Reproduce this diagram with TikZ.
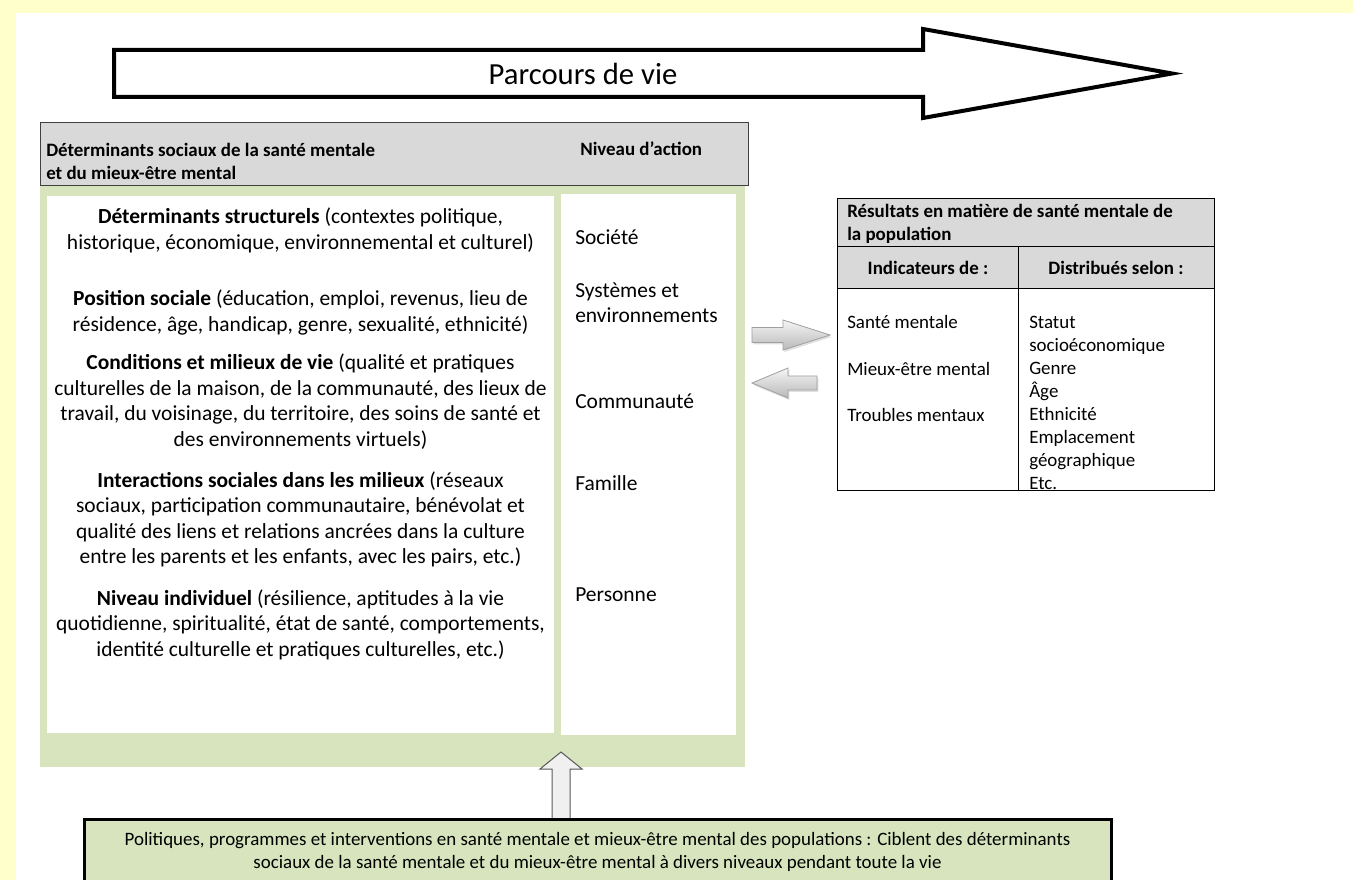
\documentclass[tikz,border=0pt]{standalone}
\usepackage{fontspec}
\setmainfont{Carlito}
\usetikzlibrary{positioning, calc, fit, shadows}
\definecolor{paleyellow}{HTML}{FFFFCC}
\definecolor{sage}{HTML}{D7E4BD}
\definecolor{headgrey}{HTML}{D9D9D9}

\tikzset{
  bodytxt/.style={font=\fontsize{16.1}{19.1}\selectfont, align=center, inner sep=0},
  leveltxt/.style={font=\fontsize{16.1}{19.1}\selectfont, anchor=west, align=left, inner sep=0},
  smalltxt/.style={font=\fontsize{14.2}{17.3}\selectfont, inner sep=0},
  boldtxt/.style={font=\fontsize{14.2}{17.3}\selectfont\bfseries, inner sep=0},
  area/.style={inner sep=0, fill=#1},
  grayarrow/.style={top color=gray!8, bottom color=gray!55, draw=gray!75,
    line width=0.6pt, drop shadow={opacity=0.25, shadow xshift=1pt, shadow yshift=-1.5pt}},
}

\begin{document}
\begin{tikzpicture}[x=0.75pt, y=-0.75pt]
  \useasboundingbox (0,0) rectangle (1353,880);

  % Page frame
  \fill[paleyellow] (0,0) rectangle (1353,13);
  \fill[paleyellow] (0,0) rectangle (16,880);

  % Life course arrow
  \draw[line width=3pt, fill=white] (114,50) -- (923,50) -- (923,29) -- (1172,73.5)
    -- (923,118) -- (923,97) -- (114,97) -- cycle;
  \node[font=\fontsize{23}{27}\selectfont] (lifecourse) at (583,73.5) {Parcours de vie};

  % Determinants panel
  \node[area=sage, fit={(40,186) (745,767)}] (panel) {};
  \node[area=headgrey, draw=black!75, line width=0.75pt, fit={(40,123) (748,186)}] (dethead) {};
  \node[area=white, fit={(47,196) (554,733)}] (detbox) {};
  \node[area=white, fit={(561,194) (736,735)}] (levelbox) {};

  \node[boldtxt, anchor=west, align=left] (dettitle) at (46,161.5)
    {Déterminants sociaux de la santé mentale\\et du mieux-être mental};
  \node[boldtxt, anchor=west] (leveltitle) at (580,149) {Niveau d’action};

  % Determinants
  \node[bodytxt] (structural) at (300.5,230.5)
    {\textbf{Déterminants structurels} (contextes politique,\\
     historique, économique, environnemental et culturel)};
  \node[bodytxt] (position) at (300.5,312.5)
    {\textbf{Position sociale} (éducation, emploi, revenus, lieu de\\
     résidence, âge, handicap, genre, sexualité, ethnicité)};
  \node[bodytxt] (conditions) at (300.5,401.5)
    {\textbf{Conditions et milieux de vie} (qualité et pratiques\\
     culturelles de la maison, de la communauté, des lieux de\\
     travail, du voisinage, du territoire, des soins de santé et\\
     des environnements virtuels)};
  \node[bodytxt] (interactions) at (300.5,519.5)
    {\textbf{Interactions sociales dans les milieux} (réseaux\\
     sociaux, participation communautaire, bénévolat et\\
     qualité des liens et relations ancrées dans la culture\\
     entre les parents et les enfants, avec les pairs, etc.)};
  \node[bodytxt] (individual) at (300.5,624.5)
    {\textbf{Niveau individuel} (résilience, aptitudes à la vie\\
     quotidienne, spiritualité, état de santé, comportements,\\
     identité culturelle et pratiques culturelles, etc.)};

  % Levels of action
  \node[leveltxt] (society) at (575,237) {Société};
  \node[leveltxt] (systems) at (575,303) {Systèmes et\\environnements};
  \node[leveltxt] (community) at (575,401) {Communauté};
  \node[leveltxt] (family) at (575,483) {Famille};
  \node[leveltxt] (person) at (575,595) {Personne};

  % Results table
  \node[area=white, fit={(838,199) (1214,490)}] (results) {};
  \fill[headgrey] (results.north west) rectangle (1214,289);
  \node[boldtxt, anchor=west, align=left] (restitle) at (847,223.5)
    {Résultats en matière de santé mentale de\\la population};
  \node[boldtxt] (indhead) at (928,268) {Indicateurs de :};
  \node[boldtxt] (disthead) at (1116,268) {Distribués selon :};
  \foreach \y/\txt in {322/Santé mentale, 369/Mieux-être mental, 415/Troubles mentaux}
    \node[smalltxt, anchor=west] (ind-\y) at (847,\y) {\txt};
  \node[smalltxt, anchor=west, align=left] (distlist) at (1029,403)
    {Statut\\socioéconomique\\Genre\\Âge\\Ethnicité\\Emplacement\\géographique\\Etc.};
  \draw[line width=0.75pt] (838,247) -- (1214,247);
  \draw[line width=0.75pt] (838,289) -- (1214,289);
  \draw[line width=0.75pt] (1018,247) -- (1018,490);
  \draw[line width=0.75pt] (results.north west) rectangle (results.south east);

  % Exchange arrows
  \coordinate (outfoot) at (752,335);
  \coordinate (outtip) at (830,335);
  \draw[grayarrow] ($(outfoot)+(0,-7.5)$) -- ($(outtip)+(-47,-7.5)$) -- ($(outtip)+(-47,-15)$)
    -- (outtip) -- ($(outtip)+(-47,15)$) -- ($(outtip)+(-47,7.5)$) -- ($(outfoot)+(0,7.5)$) -- cycle;
  \coordinate (backfoot) at (817,383);
  \coordinate (backtip) at (752,383);
  \draw[grayarrow] ($(backfoot)+(0,-7)$) -- ($(backtip)+(36,-7)$) -- ($(backtip)+(36,-15)$)
    -- (backtip) -- ($(backtip)+(36,15)$) -- ($(backtip)+(36,7)$) -- ($(backfoot)+(0,7)$) -- cycle;

  % Policies box
  \coordinate (upfoot) at (561,820);
  \coordinate (uptip) at (561,752);
  \draw[fill=gray!12, draw=gray!70!black, line width=0.75pt] ($(upfoot)+(-9,0)$) -- ($(uptip)+(-9,17)$)
    -- ($(uptip)+(-21,17)$) -- (uptip) -- ($(uptip)+(21,17)$) -- ($(uptip)+(9,17)$) -- ($(upfoot)+(9,0)$);
  \node[area=sage, draw=black, line width=2.25pt, fit={(84,819) (1111,900)}] (policy) {};
  \node[smalltxt, align=center] (policytxt) at (597.5,851.5)
    {Politiques, programmes et interventions en santé mentale et mieux-être mental des populations : Ciblent des déterminants\\
     sociaux de la santé mentale et du mieux-être mental à divers niveaux pendant toute la vie};
\end{tikzpicture}
\end{document}
